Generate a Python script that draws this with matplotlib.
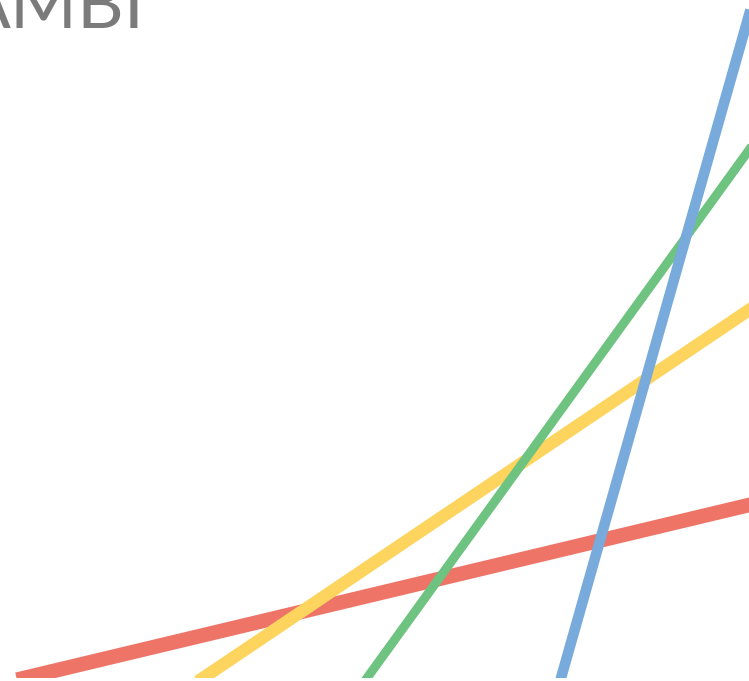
import matplotlib
matplotlib.use("Agg")
import matplotlib.pyplot as plt

# stripe endpoints (pixel coords, y grows downward)
names = ["red", "yellow", "green", "blue"]
x_start = [24, 203, 367, 561]
y_start = [678, 678, 678, 678]
x_end = [749, 749, 749, 749]
y_end = [505, 310, 150, 15]
colors = ["#ee7468", "#fdd45e", "#6dc37f", "#78aadb"]
widths = [10.5, 9.0, 6.5, 7.6]

label = "AMBI"

fig = plt.figure(figsize=(7.49, 6.81), dpi=100)
# leave a thin white strip at the bottom like the original
ax = fig.add_axes([0, 3 / 681, 1, 678 / 681])
ax.set_xlim(0, 749)
ax.set_ylim(678, 0)
ax.axis("off")

for i in range(len(names)):
    ax.plot([x_start[i], x_end[i]], [y_start[i], y_end[i]],
            color=colors[i], linewidth=widths[i], solid_capstyle="projecting")

fig.text(-38 / 749, 1 - 28 / 681, label, fontsize=52, color="#7b7b7b",
         family="Lato", ha="left", va="baseline")

fig.savefig("out.png", dpi=100)
